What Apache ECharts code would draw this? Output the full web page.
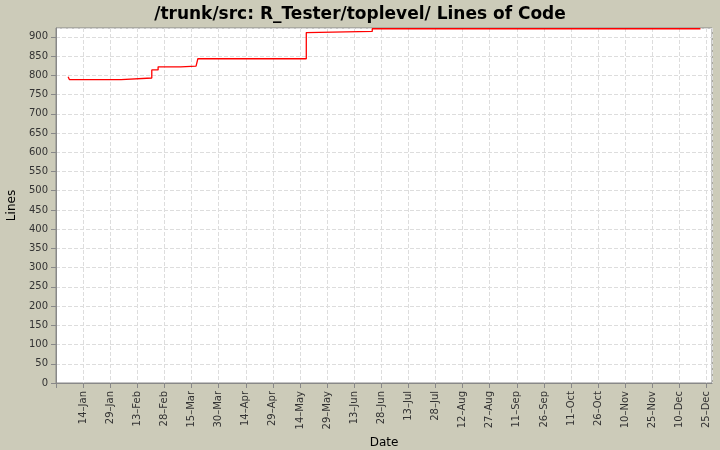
<!DOCTYPE html>
<html><head><meta charset="utf-8">
<script src="https://cdn.jsdelivr.net/npm/echarts@6/dist/echarts.min.js"></script>
<style>html,body{margin:0;padding:0;background:#cccbb9}#c{width:720px;height:450px}</style>
</head><body><div id="c"></div>
<script>
// x = days after 14-Jan (2007)
const days = [-8.3, -7.6, 21, 38, 41.5, 54, 62.5, 63.5, 123.5, 124.2, 160, 341.6];
const lines = [796, 789, 793, 814, 822, 824, 828, 843, 911, 914, 921, 921];
const months = ['Jan','Feb','Mar','Apr','May','Jun','Jul','Aug','Sep','Oct','Nov','Dec'];
const title = '/trunk/src: R_Tester/toplevel/ Lines of Code';

const chart = echarts.init(document.getElementById('c'));
chart.setOption({
  backgroundColor: '#cccbb9',
  animation: false,
  title: {text: title, left: 'center', top: 1,
    textStyle: {fontFamily: 'DejaVu Sans', fontWeight: 'bold', fontSize: 17, color: '#000'}},
  grid: {left: 56, right: 8, top: 28, bottom: 67, outerBoundsMode: 'none', containLabel: false,
    show: true, backgroundColor: '#fff', borderColor: '#888', borderWidth: 1},
  xAxis: {type: 'value', min: -15, max: 348, interval: 15,
    name: 'Date', nameLocation: 'middle', nameGap: 50,
    nameTextStyle: {fontFamily: 'DejaVu Sans', fontSize: 12, color: '#000'},
    axisLine: {onZero: false, lineStyle: {color: '#888'}},
    axisTick: {lineStyle: {color: '#888'}},
    axisLabel: {rotate: 90, fontFamily: 'DejaVu Sans', fontSize: 10, color: '#333',
      formatter: v => { if (v < 0) return ''; const d = new Date(2007, 0, 14 + v); return d.getDate() + '\u2013' + months[d.getMonth()]; }},
    splitLine: {show: true, lineStyle: {color: '#dddddd', type: 'dashed'}}},
  yAxis: {type: 'value', min: 0, max: 923, interval: 50,
    name: 'Lines', nameLocation: 'middle', nameGap: 32,
    nameTextStyle: {fontFamily: 'DejaVu Sans', fontSize: 12, color: '#000'},
    axisLine: {show: true, onZero: false, lineStyle: {color: '#888'}},
    axisTick: {show: true, lineStyle: {color: '#888'}},
    axisLabel: {fontFamily: 'DejaVu Sans', fontSize: 10, color: '#333', showMaxLabel: false},
    splitLine: {lineStyle: {color: '#dddddd', type: 'dashed'}}},
  series: [{type: 'line', step: 'end', showSymbol: false, z: 5,
    lineStyle: {color: '#ff0000', width: 1.3},
    data: days.map((d, i) => [d, lines[i]])}]
});
</script></body></html>
